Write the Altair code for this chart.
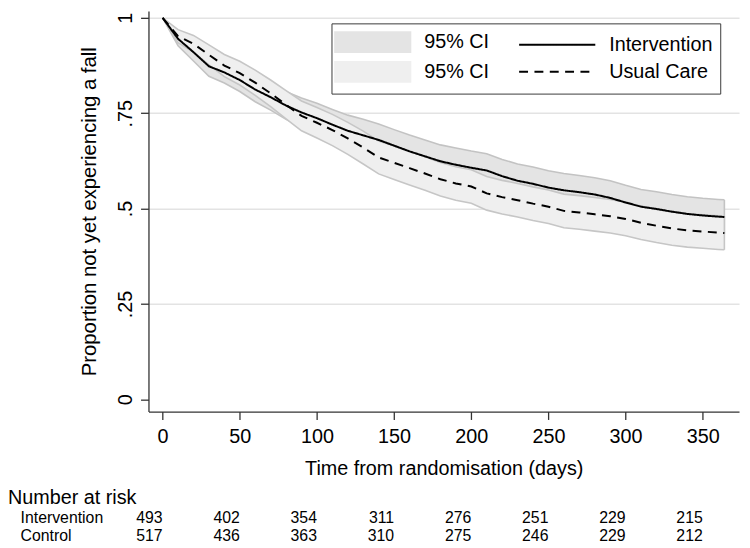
import altair as alt
import pandas as pd

# ---- data ----
times = [0, 10, 20, 30, 40, 50, 60, 70, 80, 90, 100, 110, 120, 130, 140, 150, 160, 170, 180,
         190, 200, 210, 220, 230, 240, 250, 260, 270, 280, 290, 300, 310, 320, 330, 340, 350, 360, 364]

int_est = [1.0, .945, .910, .873, .857, .837, .812, .792, .770, .752,
           .737, .720, .704, .692, .680, .665, .650, .637, .624, .615,
           .607, .600, .585, .573, .565, .555, .548, .543, .537, .528,
           .516, .505, .499, .492, .486, .482, .479, .478]
int_hi = [1.0, .963, .933, .899, .885, .867, .844, .826, .806, .790,
          .776, .760, .745, .734, .722, .707, .693, .680, .667, .659,
          .651, .644, .629, .617, .609, .599, .592, .587, .581, .573,
          .561, .550, .544, .537, .531, .527, .524, .523]
int_lo = [1.0, .927, .887, .847, .829, .807, .780, .758, .734, .714,
          .698, .680, .663, .650, .638, .623, .607, .594, .581, .571,
          .563, .556, .541, .529, .521, .511, .504, .499, .493, .483,
          .471, .460, .454, .447, .441, .437, .434, .433]

uc_est = [1.0, .952, .932, .903, .875, .855, .830, .802, .772, .743,
          .725, .706, .684, .660, .634, .620, .606, .592, .577, .566,
          .558, .540, .530, .522, .513, .505, .494, .490, .485, .480,
          .473, .463, .455, .448, .443, .440, .437, .436]
uc_hi = [1.0, .969, .954, .929, .904, .886, .863, .837, .809, .782,
         .765, .747, .726, .703, .677, .664, .650, .636, .621, .610,
         .602, .584, .574, .566, .557, .549, .538, .534, .529, .524,
         .517, .507, .499, .492, .487, .484, .481, .480]
uc_lo = [1.0, .935, .910, .877, .846, .824, .797, .767, .735, .704,
         .685, .665, .642, .617, .591, .576, .562, .548, .533, .522,
         .514, .496, .486, .478, .469, .461, .450, .446, .441, .436,
         .429, .419, .411, .404, .399, .396, .393, .392]

risk_times = [0, 50, 100, 150, 200, 250, 300, 350]
risk_int = [493, 402, 354, 311, 276, 251, 229, 215]
risk_ctl = [517, 436, 363, 310, 275, 246, 229, 212]
risk_rows = ["Number at risk", "Intervention", "Control"]

y_ticks = [0, 0.25, 0.5, 0.75, 1]
# legend entries (filled column by column: CI swatches, then the two curves)
legend_keys = ["ci1", "ci2", "Intervention", "Usual Care"]
legend_fills = ["#e4e4e4", "#efefef", "transparent", "transparent"]
legend_strokes = ["transparent", "transparent", "black", "black"]
legend_dashes = [[1, 0], [1, 0], [1, 0], [9, 6.5]]
RECT = "M-1,-1H6.09V1H-1Z"
LINE = "M-1,0H6"
legend_shapes = [RECT, RECT, LINE, LINE]

# ---- tables ----
df_int_band = pd.DataFrame({"t": times, "lo": int_lo, "hi": int_hi, "key": "ci1"})
df_uc_band = pd.DataFrame({"t": times, "lo": uc_lo, "hi": uc_hi, "key": "ci2"})
df_int_line = pd.DataFrame({"t": times, "est": int_est, "key": "Intervention"})
df_uc_line = pd.DataFrame({"t": times, "est": uc_est, "key": "Usual Care"})
df_keys = pd.DataFrame({"key": legend_keys})
risk_df = pd.DataFrame({
    "t": risk_times + risk_times,
    "n": risk_int + risk_ctl,
    "row": [risk_rows[1]] * len(risk_times) + [risk_rows[2]] * len(risk_times),
})
rowlab_df = pd.DataFrame({"row": risk_rows[1:]})
head_df = pd.DataFrame({"row": risk_rows[:1]})

FONT = "Liberation Sans"
xscale = alt.Scale(domain=[-9.17, 373.5], nice=False, zero=False)
yscale = alt.Scale(domain=[-0.0319, 1.01815], nice=False, zero=False)
fill_scale = alt.Scale(domain=legend_keys, range=legend_fills)
stroke_scale = alt.Scale(domain=legend_keys, range=legend_strokes)
dash_scale = alt.Scale(domain=legend_keys, range=legend_dashes)
shape_scale = alt.Scale(domain=legend_keys, range=legend_shapes)
row_scale = alt.Scale(type="point", domain=risk_rows, range=[498.7, 536], padding=0)

legend = alt.Legend(
    title=None, orient="none", legendX=185, legendY=12.6,
    columns=2, gridAlign="each", columnPadding=25, rowPadding=0, padding=7,
    strokeColor="#3a3a3a", fillColor="white",
    symbolSize=484, symbolStrokeWidth=2, symbolOpacity=1, symbolOffset=-5.3,
    symbolFillColor="transparent", symbolStrokeColor="black",
    labelFont=FONT, labelFontSize=20, labelColor="black", labelOffset=68,
    labelExpr="(datum.label == 'ci1' || datum.label == 'ci2') ? '95% CI' : datum.label",
)

x_axis = alt.Axis(
    values=risk_times, title="Time from randomisation (days)",
    titleFontSize=20, titleY=64, titleBaseline="alphabetic",
    labelFontSize=20, labelPadding=7, tickSize=8, grid=False,
    labelFlush=False, labelOverlap=False,
)
y_axis = alt.Axis(
    values=y_ticks, title="Proportion not yet experiencing a fall",
    labelExpr="replace(format(datum.value, '.2~f'), '0.', '.')",
    labelAngle=270, labelAlign="center", labelBaseline="middle", labelPadding=15.5,
    labelFontSize=20, tickSize=8,
    grid=True, gridColor="#e3e3e3", gridWidth=1.5,
    gridOpacity={"condition": {"test": "datum.value == 0", "value": 0}, "value": 1},
    titleFontSize=20.5, titleX=-54, titleBaseline="alphabetic", titleAngle=270,
)

X = alt.X("t:Q", scale=xscale)


def band_layers(df, first, edge_color):
    if first:
        ax = alt.X("t:Q", scale=xscale, axis=x_axis)
        ay = alt.Y("lo:Q", scale=yscale, axis=y_axis)
    else:
        ax = X
        ay = alt.Y("lo:Q", scale=yscale)
    area = alt.Chart(df).mark_area().encode(
        x=ax, y=ay, y2="hi:Q",
        fill=alt.Fill("key:N", scale=fill_scale, legend=legend),
    )
    upper = alt.Chart(df).mark_line(color=edge_color, strokeWidth=1.6).encode(
        x=X, y=alt.Y("hi:Q", scale=yscale))
    lower = alt.Chart(df).mark_line(color=edge_color, strokeWidth=1.6).encode(
        x=X, y=alt.Y("lo:Q", scale=yscale))
    end = alt.Chart(df).transform_filter("datum.t == 364").mark_rule(
        color=edge_color, strokeWidth=1.6).encode(
        x=X, y=alt.Y("lo:Q", scale=yscale), y2="hi:Q")
    return [area, upper, lower, end]


def curve(df):
    return alt.Chart(df).mark_line(strokeWidth=2).encode(
        x=X, y=alt.Y("est:Q", scale=yscale),
        stroke=alt.Stroke("key:N", scale=stroke_scale, legend=legend),
        strokeDash=alt.StrokeDash("key:N", scale=dash_scale, legend=legend),
    )


# legend-only layer (all rows filtered out) that carries the symbol shapes
legend_shapes_layer = alt.Chart(df_keys).transform_filter("false").mark_point(filled=True).encode(
    x=alt.value(0), y=alt.value(0),
    shape=alt.Shape("key:N", scale=shape_scale, legend=legend),
    fill=alt.Fill("key:N", scale=fill_scale, legend=legend),
    stroke=alt.Stroke("key:N", scale=stroke_scale, legend=legend),
    strokeDash=alt.StrokeDash("key:N", scale=dash_scale, legend=legend),
)

main = alt.layer(
    *band_layers(df_int_band, True, "#c3c3c3"),
    *band_layers(df_uc_band, False, "#c6c6c6"),
    curve(df_int_line), curve(df_uc_line), legend_shapes_layer,
)

header = alt.Chart(head_df).mark_text(
    align="left", baseline="alphabetic", fontSize=20, font=FONT, color="black"
).encode(x=alt.value(-142), y=alt.Y("row:N", scale=row_scale, axis=None), text="row:N")
rowlabels = alt.Chart(rowlab_df).mark_text(
    align="left", baseline="alphabetic", fontSize=16, font=FONT, color="black"
).encode(x=alt.value(-129.3), y=alt.Y("row:N", scale=row_scale, axis=None), text="row:N")
numbers = alt.Chart(risk_df).mark_text(
    align="right", baseline="alphabetic", fontSize=16, font=FONT, color="black"
).encode(
    x=X,
    y=alt.Y("row:N", scale=row_scale, axis=None),
    text="n:Q",
)
table = alt.layer(header, rowlabels, numbers)

chart = alt.layer(main, table).resolve_scale(y="independent").properties(
    width=597, height=405,
    autosize=alt.AutoSizeParams(type="none"),
    padding={"left": 142, "top": 0, "right": 3, "bottom": 135},
    background="white",
).configure(font=FONT).configure_view(strokeWidth=0).configure_axis(
    labelFont=FONT, titleFont=FONT, labelColor="black", titleColor="black",
    titleFontWeight="normal", domainColor="#333333", tickColor="#333333",
    domainWidth=1.3, tickWidth=1.3,
)

chart.save("out.html", embed_options={"renderer": "svg", "actions": False})
